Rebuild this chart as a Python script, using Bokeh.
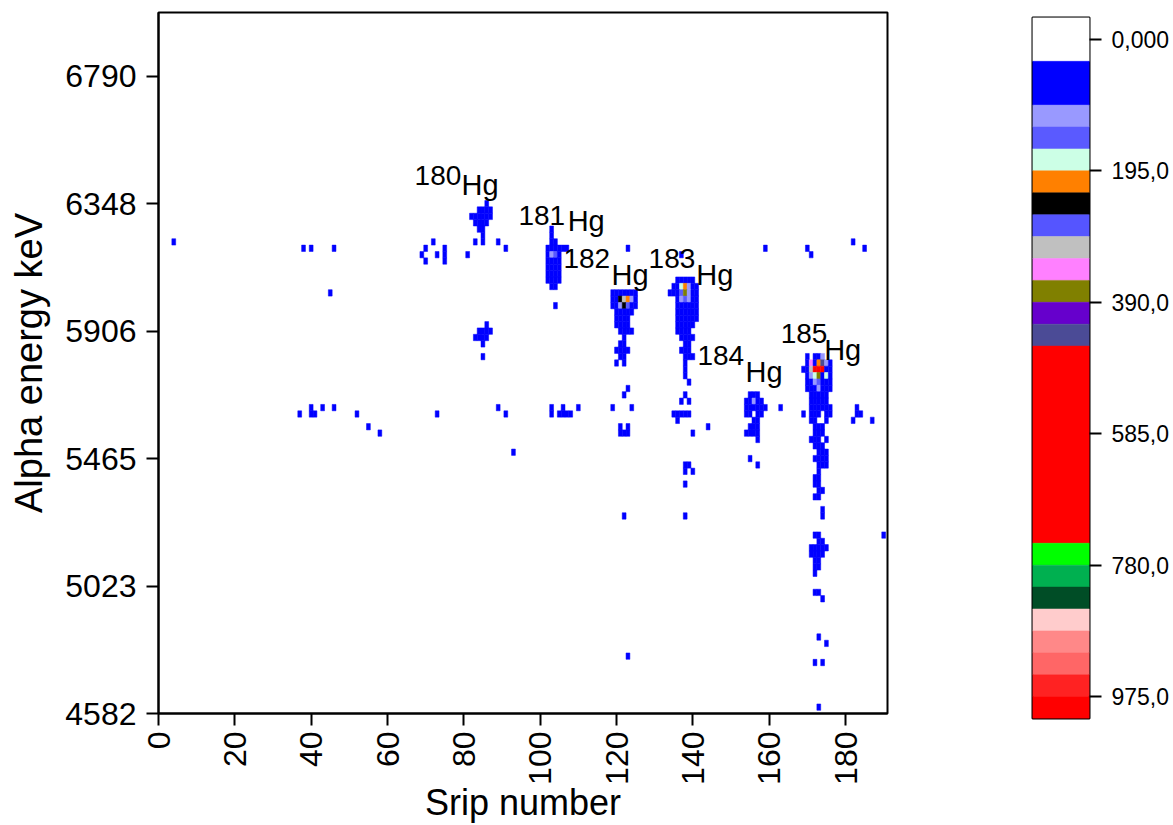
import math
from bokeh.plotting import figure
from bokeh.models import ColumnDataSource, Range1d, FixedTicker, LinearColorMapper, LinearAxis
from bokeh.layouts import row
from bokeh.transform import transform
from bokeh.core.properties import value
from bokeh.embed import file_html
from bokeh.resources import INLINE

FONT = "Liberation Sans"

# ---- energy calibration of the channel axis (keV) ----
E0 = 4582.0
dE = 22.08
n_channels = 110
n_strips = 191

# ---- axis ticks ----
x_ticks = [0, 20, 40, 60, 80, 100, 120, 140, 160, 180]
y_ticks = [4582, 5023.6, 5465.2, 5906.8, 6348.4, 6790]
y_tick_labels = ["4582", "5023", "5465", "5906", "6348", "6790"]

# ---- colour scale (counts) ----
levels = [-32.5, 32.5, 97.5, 130.0, 162.5, 195.0, 227.5, 260.0, 292.5, 325.0, 357.5,
          390.0, 422.5, 455.0, 747.5, 780.0, 812.5, 845.0, 877.5, 910.0, 942.5, 975.0, 1007.5]
level_colors = ["#FFFFFF", "#0000FF", "#9999FF", "#5A5AFF", "#CCFFE6", "#FF8000", "#000000",
                "#5555FF", "#C0C0C0", "#FF80FF", "#808000", "#6600CC", "#4B4B96", "#FF0000",
                "#00FF00", "#00B050", "#004D26", "#FFCCCC", "#FF8888", "#FF6666", "#FF2222", "#FF0000"]
cb_ticks = [0, 195, 390, 585, 780, 975]
cb_tick_labels = ["0,000", "195,0", "390,0", "585,0", "780,0", "975,0"]

# ---- isotope labels ----
iso_mass = ["180", "181", "182", "183", "184", "185"]
iso_mass_x = [67.1, 94.3, 106.1, 128.4, 141.2, 163.0]
iso_mass_y = [6445, 6308, 6158, 6158, 5822, 5898]
iso_sym_x = [79.4, 107.2, 118.7, 140.9, 153.8, 174.4]
iso_sym_y = [6413, 6288, 6101, 6101, 5764, 5841]

# ---- matrix cells: strip number, energy channel, counts ----
strip = [
    4, 38, 40, 46, 45,
    40, 43, 46, 37, 40, 41, 52, 55, 58,
    72, 70, 69, 70, 73, 75, 75, 75, 81, 83, 89, 91,
    73, 89, 91, 93,
    86, 84, 85, 86, 87, 82, 83, 84, 85, 86, 87,
    83, 84, 85, 86, 84, 85, 85, 85,
    86, 84, 85, 86, 87, 83, 84, 85, 86, 85, 85,
    103, 103, 103, 104, 102, 103, 104, 105, 106, 107,
    102, 103, 104, 105, 102, 103, 104, 105, 102, 103, 104, 105,
    102, 103, 104, 105, 102, 103, 104, 105, 103, 104, 104,
    103, 103, 106, 105, 106, 107, 108, 110,
    119, 120, 121, 122, 123, 124, 125,
    119, 120, 121, 122, 123, 124, 125,
    119, 120, 121, 122, 123, 124, 125,
    120, 121, 122, 123, 124, 120, 121, 122, 123, 120, 121, 122, 123,
    121, 122, 123, 124, 122, 121, 122, 120, 121, 122, 123, 121, 122, 120, 122,
    123, 122, 119, 124, 121, 123, 121, 122, 123, 122, 123, 123,
    136, 137, 138, 139, 140,
    135, 136, 137, 138, 139, 140, 141,
    134, 135, 136, 137, 138, 139, 140, 141,
    136, 137, 138, 139, 140, 141,
    136, 137, 138, 139, 140, 141,
    136, 137, 138, 139, 140, 141,
    136, 137, 138, 139, 140, 141,
    136, 137, 138, 139, 140,
    136, 137, 138, 139,
    137, 138, 139, 140,
    138, 139, 137, 138, 139, 138, 139, 140, 138, 138, 138, 139, 138, 137, 139,
    135, 136, 137, 138, 139, 136, 144, 140, 138, 139, 138, 140, 138, 138, 137,
    155, 156, 157, 154, 155, 156, 157, 158,
    154, 155, 156, 157, 158, 159, 154, 155, 157, 158,
    156, 157, 155, 156, 157, 154, 155, 156, 157, 157, 155, 157, 163,
    170, 172, 173, 174,
    170, 171, 172, 173, 174, 175, 176,
    169, 170, 171, 172, 173, 174, 175, 176,
    170, 171, 172, 173, 174, 175, 176,
    170, 171, 172, 173, 174, 175, 176,
    170, 171, 172, 173, 174, 175, 176,
    171, 172, 173, 174, 175, 171, 172, 173, 174, 175, 171, 172, 173, 174, 175, 176,
    169, 171, 172, 173, 175, 176, 171, 172, 175, 172, 173, 174, 172, 173, 174,
    171, 172, 173, 175, 172, 173, 174, 173, 174, 175, 172, 173, 174, 175, 173, 174, 175,
    173, 172, 173, 172, 173, 173, 174, 172, 173, 174, 174,
    172, 173, 173, 174, 171, 172, 173, 174, 175, 171, 172, 173, 174, 172, 173, 172, 173, 172,
    172, 173, 174, 173, 175, 172, 174, 173,
    182, 183, 183, 184, 187, 190, 159, 170, 171, 182, 185,
]

channel = [
    74, 73, 73, 73, 66,
    48, 48, 48, 47, 47, 47, 47, 45, 44,
    74, 73, 72, 71, 72, 73, 72, 71, 72, 74, 74, 73,
    47, 48, 47, 41,
    80, 79, 79, 79, 79, 78, 78, 78, 78, 78, 78,
    77, 77, 77, 77, 76, 76, 75, 74,
    61, 60, 60, 60, 60, 59, 59, 59, 59, 58, 56,
    76, 75, 74, 74, 73, 73, 73, 73, 73, 73,
    72, 72, 72, 72, 71, 71, 71, 71, 70, 70, 70, 70,
    69, 69, 69, 69, 68, 68, 68, 68, 67, 67, 64,
    48, 47, 48, 47, 47, 47, 47, 48,
    66, 66, 66, 66, 66, 66, 66,
    65, 65, 65, 65, 65, 65, 65,
    64, 64, 64, 64, 64, 64, 64,
    63, 63, 63, 63, 63, 62, 62, 62, 62, 61, 61, 61, 61,
    60, 60, 60, 60, 59, 58, 58, 57, 57, 57, 57, 56, 56, 55, 55,
    51, 50, 48, 48, 45, 45, 44, 44, 44, 31, 9, 73,
    68, 68, 68, 68, 68,
    67, 67, 67, 67, 67, 67, 67,
    66, 66, 66, 66, 66, 66, 66, 66,
    65, 65, 65, 65, 65, 65,
    64, 64, 64, 64, 64, 64,
    63, 63, 63, 63, 63, 63,
    62, 62, 62, 62, 62, 62,
    61, 61, 61, 61, 61,
    60, 60, 60, 60,
    59, 59, 59, 59,
    58, 58, 57, 57, 57, 56, 56, 56, 55, 54, 53, 52, 50, 49, 49,
    47, 47, 47, 47, 47, 46, 45, 44, 39, 39, 38, 38, 36, 31, 72,
    50, 50, 50, 49, 49, 49, 49, 49,
    48, 48, 48, 48, 48, 48, 47, 47, 47, 47,
    46, 46, 45, 45, 45, 44, 44, 44, 44, 43, 40, 39, 48,
    56, 56, 56, 56,
    55, 55, 55, 55, 55, 55, 55,
    54, 54, 54, 54, 54, 54, 54, 54,
    53, 53, 53, 53, 53, 53, 53,
    52, 52, 52, 52, 52, 52, 52,
    51, 51, 51, 51, 51, 51, 51,
    50, 50, 50, 50, 50, 49, 49, 49, 49, 49, 48, 48, 48, 48, 48, 48,
    47, 47, 47, 47, 47, 47, 46, 46, 46, 45, 45, 45, 44, 44, 44,
    43, 43, 43, 43, 42, 42, 42, 41, 41, 41, 40, 40, 40, 40, 39, 39, 39,
    38, 37, 37, 36, 36, 35, 35, 34, 34, 32, 31,
    28, 28, 27, 27, 26, 26, 26, 26, 26, 25, 25, 25, 25, 24, 24, 23, 23, 22,
    19, 19, 18, 12, 11, 8, 8, 1,
    46, 48, 47, 47, 46, 28, 73, 73, 72, 74, 73,
]

counts = [
    65, 65, 65, 65, 65,
    65, 65, 65, 65, 65, 65, 65, 65, 65,
    65, 65, 65, 65, 65, 65, 65, 65, 65, 65, 65, 65,
    65, 65, 65, 65,
    65, 65, 65, 65, 65, 65, 65, 65, 65, 65, 65,
    65, 65, 65, 65, 65, 65, 65, 65,
    65, 65, 65, 65, 65, 65, 65, 65, 65, 65, 65,
    65, 65, 65, 65, 65, 65, 65, 65, 65, 65,
    65, 110, 145, 65, 65, 65, 65, 65, 65, 65, 65, 65,
    65, 65, 65, 65, 65, 65, 65, 65, 65, 65, 65,
    65, 65, 65, 65, 65, 65, 65, 65,
    65, 65, 65, 65, 65, 65, 65,
    65, 65, 245, 310, 210, 110, 65,
    65, 65, 110, 245, 145, 65, 65,
    65, 65, 65, 65, 65, 65, 65, 65, 65, 65, 65, 65, 65,
    65, 65, 65, 65, 65, 65, 65, 65, 65, 65, 65, 65, 65, 65, 65,
    65, 65, 65, 65, 65, 65, 65, 65, 65, 65, 65, 65,
    65, 65, 65, 65, 65,
    65, 65, 180, 210, 110, 65, 65,
    65, 65, 65, 145, 375, 110, 65, 65,
    65, 110, 145, 110, 65, 65,
    65, 65, 65, 65, 65, 65,
    65, 65, 65, 65, 65, 65,
    65, 65, 65, 65, 65, 65,
    65, 65, 65, 65, 65,
    65, 65, 65, 65,
    65, 65, 65, 65,
    65, 65, 65, 65, 65, 65, 65, 65, 65, 65, 65, 65, 65, 65, 65,
    65, 65, 65, 65, 65, 65, 65, 65, 65, 65, 65, 65, 65, 65, 65,
    65, 65, 65, 65, 65, 110, 65, 65,
    65, 65, 65, 65, 65, 65, 65, 65, 65, 65,
    65, 65, 65, 65, 65, 65, 65, 65, 65, 65, 65, 65, 65,
    65, 65, 65, 110,
    65, 340, 65, 210, 440, 110, 65,
    65, 65, 310, 600, 600, 600, 65, 65,
    65, 110, 180, 375, 65, 180, 65,
    65, 65, 110, 145, 65, 65, 65,
    65, 65, 65, 110, 65, 65, 65,
    65, 65, 65, 65, 65, 65, 65, 65, 65, 65, 65, 65, 65, 65, 65, 65,
    65, 65, 65, 65, 65, 65, 65, 65, 65, 65, 65, 65, 65, 65, 65,
    65, 65, 65, 65, 65, 65, 65, 65, 65, 65, 65, 65, 65, 65, 65, 65, 65,
    65, 65, 65, 65, 65, 65, 65, 65, 65, 65, 65,
    65, 65, 65, 65, 65, 65, 65, 65, 65, 65, 65, 65, 65, 65, 65, 65, 65, 65,
    65, 65, 65, 65, 65, 65, 65, 65,
    65, 65, 65, 65, 65, 65, 65, 65, 65, 65, 65,
]

assert len(strip) == len(channel) == len(counts), (len(strip), len(channel), len(counts))

# ---- build the colour mapper from the level table (uniform sub-bands) ----
step = 32.5
n_sub = int(round((levels[-1] - levels[0]) / step))
palette = []
for i in range(n_sub):
    mid = levels[0] + (i + 0.5) * step
    for j in range(len(level_colors)):
        if levels[j] <= mid < levels[j + 1]:
            palette.append(level_colors[j])
            break
mapper = LinearColorMapper(palette=palette, low=levels[0], high=levels[-1])

energy = [E0 + dE * c for c in channel]
src = ColumnDataSource(dict(strip=strip, energy=energy, counts=counts))

# ---- main matrix plot (fixed frame size) ----
p = figure(frame_width=729, frame_height=701,
           x_range=Range1d(0, n_strips), y_range=Range1d(E0, E0 + n_channels * dE),
           output_backend="svg", toolbar_location=None,
           min_border_left=158, min_border_right=13, min_border_top=12, min_border_bottom=40)
p.rect(x="strip", y="energy", width=1, height=dE, source=src,
       fill_color=transform("counts", mapper), line_color=transform("counts", mapper),
       line_width=0.5)

p.grid.visible = False
p.outline_line_color = "black"
p.outline_line_width = 2
p.background_fill_color = "white"
p.border_fill_color = "white"

for ax in (p.xaxis[0], p.yaxis[0]):
    ax.axis_line_width = 2
    ax.major_tick_line_width = 2
    ax.major_tick_out = 12
    ax.major_tick_in = 0
    ax.minor_tick_line_color = None
    ax.major_label_text_font = FONT
    ax.major_label_text_font_size = "32px"
    ax.major_label_text_color = "black"
    ax.axis_label_text_font = FONT
    ax.axis_label_text_font_style = "normal"
    ax.axis_label_text_color = "black"

p.xaxis.ticker = FixedTicker(ticks=x_ticks)
p.xaxis.major_label_orientation = math.pi / 2
p.xaxis.major_label_standoff = 6
p.xaxis.axis_label = "Srip number"
p.xaxis.axis_label_text_font_size = "36px"
p.xaxis.axis_label_standoff = -6

p.yaxis.ticker = FixedTicker(ticks=y_ticks)
p.yaxis.major_label_overrides = {(int(v) if float(v).is_integer() else v): lab
                                 for v, lab in zip(y_ticks, y_tick_labels)}
p.yaxis.major_label_standoff = 10
p.yaxis.axis_label = "Alpha energy keV"
p.yaxis.axis_label_text_font_size = "38px"
p.yaxis.axis_label_standoff = 12

p.text(x=iso_mass_x, y=iso_mass_y, text=iso_mass, text_font=value(FONT),
       text_font_size="28px", text_baseline="alphabetic", text_align="left", text_color="black")
p.text(x=iso_sym_x, y=iso_sym_y, text=["Hg"] * len(iso_sym_x), text_font=value(FONT),
       text_font_size="29px", text_baseline="alphabetic", text_align="left", text_color="black")

# ---- colour bar ----
cb = figure(frame_width=57, frame_height=701,
            x_range=Range1d(0, 1), y_range=Range1d(levels[-1], levels[0]),
            output_backend="svg", toolbar_location=None,
            x_axis_location=None, y_axis_location=None,
            min_border_left=132, min_border_right=84, min_border_top=17, min_border_bottom=20)
cb.quad(left=0, right=1, bottom=levels[:-1], top=levels[1:],
        fill_color=level_colors, line_color=level_colors, line_width=0.5)
cb.grid.visible = False
cb.outline_line_color = "black"
cb.outline_line_width = 2
cb.border_fill_color = "white"
cax = LinearAxis(ticker=FixedTicker(ticks=cb_ticks),
                 major_label_overrides=dict(zip(cb_ticks, cb_tick_labels)))
cax.axis_line_color = None
cax.major_tick_line_width = 2
cax.major_tick_out = 12
cax.major_tick_in = 0
cax.minor_tick_line_color = None
cax.major_label_text_font = FONT
cax.major_label_text_font_size = "23px"
cax.major_label_text_color = "black"
cax.major_label_standoff = 10
cb.add_layout(cax, "right")

# keep each plot's frame where it is (no frame alignment across the row)
for fig in (p, cb):
    try:
        fig.frame_align = False
    except Exception:
        pass

layout = row(p, cb)
open("out.html", "w").write(file_html(layout, INLINE, title="Alpha energy vs strip"))
